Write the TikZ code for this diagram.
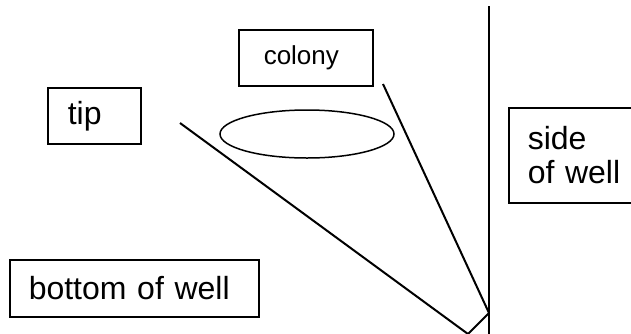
\documentclass[tikz,border=0pt]{standalone}
\usepackage{fontspec}
\setmainfont{Liberation Sans}
\usetikzlibrary{shapes.geometric}
\begin{document}
\begin{tikzpicture}[x=1pt,y=-1pt,
  label box/.style={draw, line width=1.5pt, anchor=north west, align=left,
    inner ysep=0pt, font=\fontsize{32}{34}\selectfont},
  wall/.style={line width=2pt},
  edge line/.style={line width=2pt}]
\useasboundingbox (0,0) rectangle (631,333);
\clip (0,0) rectangle (631,333);
\fill[white] (0,0) rectangle (631,333);

% label boxes
\node[label box, inner xsep=20pt, text width=53pt, minimum height=56pt] (tip) at (47,87) {tip};
\node[label box, inner xsep=25pt, text width=84pt, minimum height=56pt,
      font=\fontsize{26}{30}\selectfont] (colony) at (238,29) {colony};
\node[label box, inner xsep=19pt, text width=102pt, minimum height=95pt] (side) at (508,107) {side\\of well};
\node[label box, inner xsep=19pt, text width=211pt, minimum height=57pt] (bottom) at (9,259) {bottom of well};

% the colony itself
\node[draw, ellipse, line width=1.5pt, minimum width=174pt, minimum height=48pt, inner sep=0pt] (blob) at (307,134) {};

% well wall and the two edges meeting at the corner
\coordinate (walltop) at (489,6);
\coordinate (wallbot) at (489,340);
\coordinate (corner) at (489,313);
\coordinate (low) at (468,334);
\coordinate (tipend) at (180,123);
\coordinate (colend) at (383,84);

\draw[wall] (walltop) -- (wallbot);
\draw[edge line] (tipend) -- (low) -- (corner);
\draw[edge line] (colend) -- (corner);
\end{tikzpicture}
\end{document}
